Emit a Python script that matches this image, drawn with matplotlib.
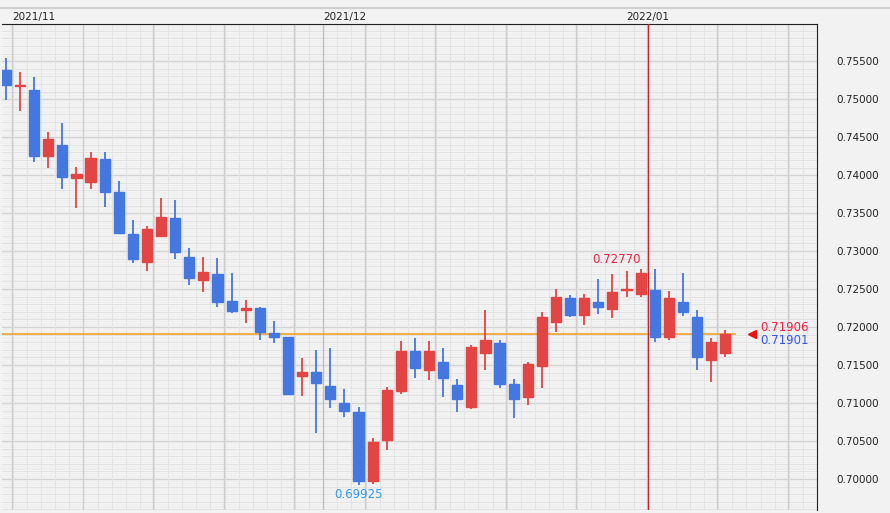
import matplotlib.pyplot as plt
import numpy as np

# daily OHLC, red = up, blue = down
opens = [0.75382, 0.75171, 0.75118, 0.74250, 0.74395, 0.73960, 0.73908, 0.74210, 0.73776, 0.73223,
         0.72855, 0.73197, 0.73434, 0.72921, 0.72618, 0.72697, 0.72342, 0.72223, 0.72250, 0.71920,
         0.71868, 0.71355, 0.71407, 0.71223, 0.70999, 0.70881, 0.69973, 0.70512, 0.71157, 0.71684,
         0.71434, 0.71539, 0.71236, 0.70947, 0.71657, 0.71789, 0.71249, 0.71078, 0.71486, 0.72065,
         0.72381, 0.72157, 0.72328, 0.72236, 0.72486, 0.72434, 0.72486, 0.71868, 0.72328, 0.72131,
         0.71565, 0.71657]
highs = [0.75539, 0.75355, 0.75289, 0.74566, 0.74684, 0.74105, 0.74302, 0.74302, 0.73921, 0.73408,
         0.73329, 0.73697, 0.73671, 0.73039, 0.72921, 0.72907, 0.72710, 0.72355, 0.72263, 0.72078,
         0.71815, 0.71591, 0.71697, 0.71723, 0.71184, 0.70947, 0.70539, 0.71210, 0.71815, 0.71855,
         0.71815, 0.71723, 0.71315, 0.71763, 0.72223, 0.71828, 0.71315, 0.71539, 0.72197, 0.72500,
         0.72421, 0.72434, 0.72631, 0.72697, 0.72736, 0.72770, 0.72763, 0.72473, 0.72710, 0.72223,
         0.71855, 0.71960]
lows = [0.74987, 0.74842, 0.74171, 0.74092, 0.73816, 0.73565, 0.73816, 0.73579, 0.73223, 0.72842,
        0.72736, 0.73197, 0.72894, 0.72552, 0.72460, 0.72263, 0.72184, 0.72052, 0.71828, 0.71789,
        0.71105, 0.71091, 0.70604, 0.70933, 0.70815, 0.69925, 0.69933, 0.70381, 0.71118, 0.71328,
        0.71302, 0.71078, 0.70881, 0.70920, 0.71434, 0.71197, 0.70802, 0.70973, 0.71197, 0.71934,
        0.72131, 0.72026, 0.72171, 0.72118, 0.72394, 0.72394, 0.71802, 0.71828, 0.72144, 0.71434,
        0.71276, 0.71605]
closes = [0.75184, 0.75184, 0.74250, 0.74474, 0.73973, 0.74013, 0.74223, 0.73776, 0.73236, 0.72894,
          0.73289, 0.73447, 0.72986, 0.72644, 0.72723, 0.72328, 0.72210, 0.72250, 0.71934, 0.71868,
          0.71118, 0.71407, 0.71262, 0.71052, 0.70894, 0.69973, 0.70486, 0.71170, 0.71684, 0.71460,
          0.71684, 0.71328, 0.71052, 0.71736, 0.71828, 0.71249, 0.71052, 0.71513, 0.72131, 0.72394,
          0.72157, 0.72381, 0.72263, 0.72460, 0.72500, 0.72710, 0.71868, 0.72381, 0.72197, 0.71605,
          0.71802, 0.71906]
month_labels = ["2021/11", "2021/12", "2022/01"]
month_pos = [0.45, 22.5, 45.5]
yticks = [0.700, 0.705, 0.710, 0.715, 0.720, 0.725, 0.730, 0.735, 0.740, 0.745, 0.750, 0.755]
bid, ask = 0.71901, 0.71906
hi_mark, lo_mark = 45, 25   # candles carrying the high / low labels

RED, BLUE = "#e34444", "#4477e0"

fig = plt.figure(figsize=(8.9, 5.13), dpi=100, facecolor="#f2f2f2")
ax = fig.add_axes([0.0022, 0.0058, 0.9157, 0.947])
ax.set_facecolor("#f4f4f4")
n = len(opens)
ax.set_xlim(-0.28, 57.5)
ax.set_ylim(0.69591, 0.75987)

# grid
for y in np.arange(0.6955, 0.760, 0.00025):
    ax.axhline(y, color="#ebebeb", lw=0.4, zorder=0)
for y in np.arange(0.696, 0.760, 0.001):
    ax.axhline(y, color="#e0e0e0", lw=0.6, zorder=0)
for y in yticks:
    ax.axhline(y, color="#d2d2d2", lw=1.0, zorder=0)
for i in range(-1, 58):
    ax.axvline(i + 0.5, color="#e2e2e2", lw=0.6, zorder=0)
for i in range(0, 58, 5):
    ax.axvline(i + 0.45, color="#cdcdcd", lw=1.0, zorder=0)
ax.axvline(month_pos[1], color="#c0c0c0", lw=1.0, zorder=0)
ax.axvline(month_pos[2], color="#cc2222", lw=0.9, zorder=3)

ax.axhline(ask, color="#f0a030", lw=1.2, zorder=1, xmax=(n - 0.3 + 0.28) / 57.78)

for i in range(n):
    o, h, l, c = opens[i], highs[i], lows[i], closes[i]
    col = RED if c >= o else BLUE
    ax.vlines(i, l, h, color=col, lw=1.3, zorder=2)
    lo, hi = min(o, c), max(o, c)
    ax.add_patch(plt.Rectangle((i - 0.36, lo), 0.72, max(hi - lo, 0.00015),
                               facecolor=col, edgecolor=col, lw=1, zorder=3))

ax.text(hi_mark, highs[hi_mark] + 0.0003, f"{highs[hi_mark]:.5f}", color="#ee2244",
        ha="right", va="bottom", fontsize=8.5)
ax.text(lo_mark, lows[lo_mark] - 0.0004, f"{lows[lo_mark]:.5f}", color="#3399ee",
        ha="center", va="top", fontsize=8.5)
ax.plot([n + 0.9], [ask], marker="<", color="#ee1111", ms=6, zorder=4, clip_on=False)
ax.text(n + 1.5, ask + 0.00005, f"{ask:.5f}", color="#ee2244", fontsize=8.5, va="bottom")
ax.text(n + 1.5, bid + 0.00005, f"{bid:.5f}", color="#3355ee", fontsize=8.5, va="top")

ax.set_xticks([])
ax.yaxis.tick_right()
ax.set_yticks(yticks)
ax.set_yticklabels([f"{v:.5f}" for v in yticks], fontsize=7.5, color="#222222")
ax.tick_params(axis="y", length=0, pad=14)
for s in ["left", "bottom"]:
    ax.spines[s].set_visible(False)
ax.spines["top"].set_color("#222222")
ax.spines["right"].set_color("#222222")

# header band with month labels
for lab, p in zip(month_labels, month_pos):
    ax.text(p, 1.004, lab, transform=ax.get_xaxis_transform(), fontsize=7.5,
            ha="left" if lab != "2022/01" else "center", va="bottom", color="#222222")
fig.add_artist(plt.Line2D([0, 1], [1 - 8 / 513] * 2, color="#cfcfcf", lw=1.5))

fig.savefig("out.png", dpi=100, facecolor=fig.get_facecolor())
